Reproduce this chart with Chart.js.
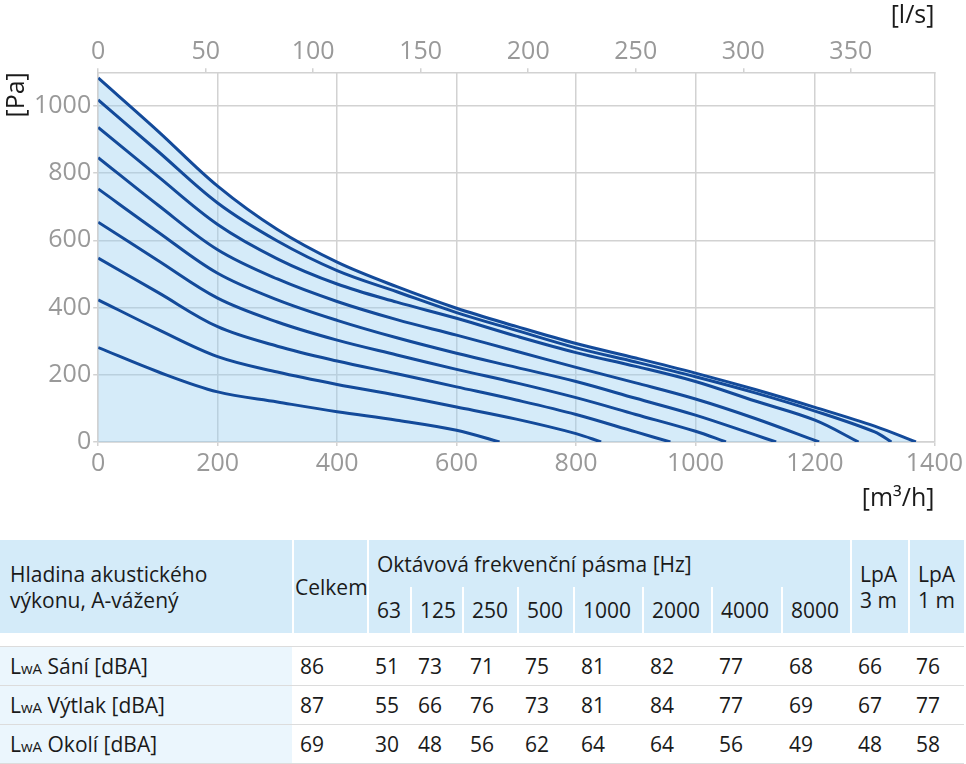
<!DOCTYPE html>
<html>
<head>
<meta charset="utf-8">
<script src="https://cdn.jsdelivr.net/npm/chart.js@4.4.1/dist/chart.umd.min.js"></script>
<style>
    body { margin: 0; background: #fff; font-family: 'Open Sans', sans-serif; color: #1a1a1a; }
    #wrap { position: relative; width: 966px; height: 518px; }
    table { position: absolute; top: 540px; left: 0; border-collapse: separate; border-spacing: 0; font-size: 21px; table-layout: fixed; width: 964px; }
    td { padding: 0 0 0 8px; text-align: left; white-space: nowrap; }
    .head td { background: #d4ebf9; }
    .h1 td { height: 47px; }
    .h2 td { height: 46px; }
    .sep { border-left: 2px solid #fff; }
    .gap td { height: 13px; }
    .row td { height: 38px; border-top: 1.5px solid #dcdcdc; }
    .row.last td { border-bottom: 1.5px solid #dcdcdc; }
    .row td.name { background: #ebf6fd; padding-left: 10px; }
    .small { font-size: 15px; }
</style>
</head>
<body>
<div id="wrap"><canvas id="fanChart" width="966" height="518"></canvas></div>
<table id="noise">
    <colgroup>
        <col style="width:292px"><col style="width:75px"><col style="width:43px"><col style="width:52px">
        <col style="width:55px"><col style="width:56px"><col style="width:69px"><col style="width:69px">
        <col style="width:70px"><col style="width:69px"><col style="width:58px"><col style="width:56px">
    </colgroup>
    <tbody id="tbody"></tbody>
</table>
<script>
// airflow points in m3/h where pressures were read
const flowPoints = [0, 100, 200, 300, 400, 500, 600, 700, 800, 900, 1000, 1100, 1200, 1300];

// pressure [Pa] for each speed curve, lowest to highest
const curve1 = [281, 209, 149, 119, 90, 65, 35];
const curve2 = [423, 335, 254, 208, 171, 139, 104, 68, 25];
const curve3 = [547, 445, 343, 285, 241, 203, 164, 125, 82, 30];
const curve4 = [654, 540, 428, 357, 303, 259, 216, 176, 132, 82, 32];
const curve5 = [753, 625, 502, 423, 362, 310, 264, 222, 180, 130, 80, 21];
const curve6 = [846, 705, 572, 485, 418, 364, 318, 270, 222, 176, 128, 70];
const curve7 = [936, 790, 647, 545, 470, 416, 368, 315, 266, 225, 180, 122, 65];
const curve8 = [1018, 865, 711, 598, 510, 447, 385, 332, 280, 238, 194, 146, 92, 30];
const curve9 = [1083, 925, 761, 632, 535, 462, 398, 344, 293, 250, 205, 156, 103, 47];

// airflow where each curve reaches 0 Pa
const endFlow = [672, 842, 958, 1051, 1135, 1207, 1273, 1328, 1369];

// tick values of the l/s axis
const litreTicks = [0, 50, 100, 150, 200, 250, 300, 350];

const curves = [curve9, curve8, curve7, curve6, curve5, curve4, curve3, curve2, curve1];
const curveEnds = endFlow.slice().reverse();

// noise table
const octaveBands = ['63', '125', '250', '500', '1000', '2000', '4000', '8000'];
const rowNames = ['Sání [dBA]', 'Výtlak [dBA]', 'Okolí [dBA]'];
const totalLevel = [86, 87, 69];
const bandLevels = [
    [51, 73, 71, 75, 81, 82, 77, 68],
    [55, 66, 76, 73, 81, 84, 77, 69],
    [30, 48, 56, 62, 64, 64, 56, 49]
];
const lpa3m = [66, 67, 48];
const lpa1m = [76, 77, 58];

const lineColor = '#134a9a';
const gridColor = '#d2d2d2';
const tickColor = '#999999';

Chart.defaults.font.family = "'Open Sans', sans-serif";

const datasets = curves.map((c, i) => {
    const pts = c.map((p, j) => ({ x: flowPoints[j], y: p }));
    pts.push({ x: curveEnds[i], y: 0 });
    return {
        data: pts,
        borderColor: lineColor,
        borderWidth: 3,
        pointRadius: 0,
        tension: 0.35,
        fill: i === 0 ? 'origin' : false,
        backgroundColor: 'rgba(150, 205, 240, 0.4)'
    };
});

const plain = v => String(v);

new Chart(document.getElementById('fanChart'), {
    type: 'line',
    data: { datasets },
    options: {
        responsive: false,
        animation: false,
        devicePixelRatio: 1,
        layout: { padding: { left: 2, right: 0, top: 3, bottom: 4 } },
        plugins: {
            legend: { display: false },
            tooltip: { enabled: false },
            filler: { drawTime: 'beforeDatasetsDraw' }
        },
        scales: {
            x: {
                type: 'linear',
                position: 'bottom',
                min: 0,
                max: 1400,
                ticks: { stepSize: 200, color: tickColor, font: { size: 25 }, padding: 3, maxRotation: 0, callback: plain },
                grid: { color: gridColor, lineWidth: 1.5, tickLength: 4 },
                border: { color: gridColor, width: 1.5 },
                title: { display: true, text: '[m³/h]', align: 'end', color: '#1a1a1a', font: { size: 25 }, padding: { top: 2, bottom: 0 } }
            },
            x2: {
                type: 'linear',
                position: 'top',
                min: 0,
                max: 1400 / 3.6,
                afterBuildTicks: scale => { scale.ticks = litreTicks.map(v => ({ value: v })); },
                ticks: { color: tickColor, font: { size: 25, lineHeight: 1.0 }, padding: 4, maxRotation: 0, autoSkip: false, callback: plain },
                grid: { drawOnChartArea: false, color: gridColor, lineWidth: 1.5, tickLength: 4 },
                border: { color: gridColor, width: 1.5 },
                title: { display: true, text: '[l/s]', align: 'end', color: '#1a1a1a', font: { size: 25, lineHeight: 1.05 }, padding: { top: 0, bottom: 6 } }
            },
            y: {
                min: 0,
                max: 1100,
                afterBuildTicks: scale => { scale.ticks = scale.ticks.filter(t => t.value % 200 === 0); },
                ticks: { stepSize: 200, color: tickColor, font: { size: 25 }, padding: 2, callback: plain },
                grid: { color: gridColor, lineWidth: 1.5, tickLength: 5 },
                border: { color: gridColor, width: 1.5 },
                title: { display: true, text: '[Pa]', align: 'end', color: '#1a1a1a', font: { size: 25 }, padding: { top: 0, bottom: 0 } }
            }
        }
    }
});

// build table
const tbody = document.getElementById('tbody');
let html = '';
html += '<tr class="head h1">' +
    '<td rowspan="2" style="padding-left:10px;line-height:26px">Hladina akustického<br>výkonu, A-vážený</td>' +
    '<td rowspan="2" class="sep" style="padding-left:1px">Celkem</td>' +
    '<td colspan="8" class="sep">Oktávová frekvenční pásma [Hz]</td>' +
    '<td rowspan="2" class="sep" style="line-height:26px">LpA<br>3 m</td>' +
    '<td rowspan="2" class="sep" style="line-height:26px">LpA<br>1 m</td></tr>';
html += '<tr class="head h2">' + octaveBands.map(b => `<td class="sep">${b}</td>`).join('') + '</tr>';
html += '<tr class="gap"><td colspan="12"></td></tr>';
rowNames.forEach((name, r) => {
    html += `<tr class="row${r === rowNames.length - 1 ? ' last' : ''}"><td class="name">L<span class="small">wA</span> ${name}</td>` +
        `<td>${totalLevel[r]}</td>` +
        bandLevels[r].map(v => `<td>${v}</td>`).join('') +
        `<td>${lpa3m[r]}</td><td>${lpa1m[r]}</td></tr>`;
});
tbody.innerHTML = html;
</script>
</body>
</html>
